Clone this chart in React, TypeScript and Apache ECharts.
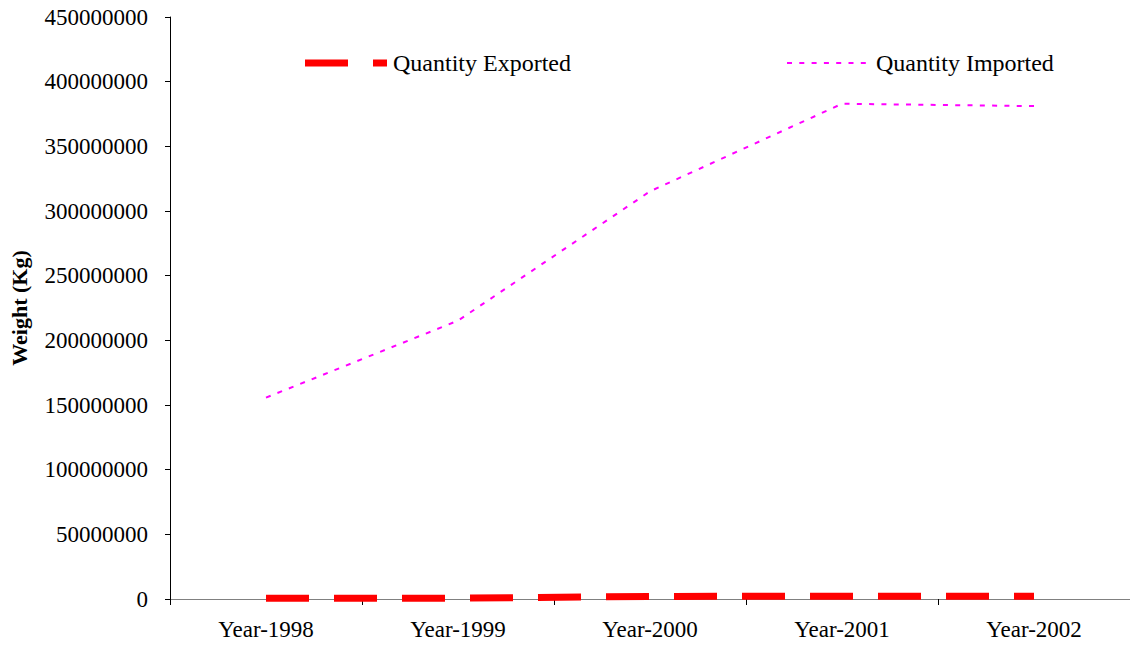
import React, { useEffect, useRef } from "react";
import * as echarts from "echarts";

const categories = ["Year-1998", "Year-1999", "Year-2000", "Year-2001", "Year-2002"];
const quantityExported = [500000, 600000, 2000000, 2100000, 2100000];
const quantityImported = [155700000, 215200000, 315200000, 382900000, 381100000];

const FONT = "'Liberation Serif', 'Times New Roman', serif";

// legend sample shapes (dash patterns as in the original legend)
const exportIcon = "path://M0,0H43V7H0Z M68,0H82V7H68Z";
const importIcon =
  "path://M0,0H5V2H0Z M12.3,0H17.3V2H12.3Z M24.6,0H29.6V2H24.6Z M36.9,0H41.9V2H36.9Z M49.2,0H54.2V2H49.2Z M61.5,0H66.5V2H61.5Z M73.8,0H78.8V2H73.8Z";

export default function App() {
  const ref = useRef<HTMLDivElement>(null);
  useEffect(() => {
    if (!ref.current) return;
    const chart = echarts.init(ref.current, undefined, { renderer: "svg" });
    chart.setOption({
      animation: false,
      backgroundColor: "#ffffff",
      textStyle: { fontFamily: FONT },
      grid: {
        left: 170,
        right: 0,
        top: 17,
        bottom: 46,
        containLabel: false,
        outerBoundsMode: "none",
      },
      legend: [
        {
          data: [{ name: "Quantity Exported", icon: exportIcon }],
          left: 305,
          top: 51,
          padding: 0,
          itemWidth: 82,
          itemHeight: 7,
          itemGap: 0,
          textStyle: { fontFamily: FONT, fontSize: 24, color: "#000", padding: [0, 0, 0, 1] },
        },
        {
          data: [{ name: "Quantity Imported", icon: importIcon }],
          left: 787,
          top: 51,
          padding: 0,
          itemWidth: 79,
          itemHeight: 2,
          itemGap: 0,
          textStyle: { fontFamily: FONT, fontSize: 24, color: "#000", padding: [0, 0, 0, 5] },
        },
      ],
      xAxis: {
        type: "category",
        data: categories,
        boundaryGap: true,
        axisLine: { show: true, lineStyle: { color: "#808080", width: 1 } },
        axisTick: { show: true, alignWithLabel: false, length: 6, lineStyle: { color: "#000" } },
        axisLabel: { fontFamily: FONT, fontSize: 23, color: "#000", margin: 19 },
        splitLine: { show: false },
      },
      yAxis: {
        type: "value",
        min: 0,
        max: 450000000,
        interval: 50000000,
        name: "Weight (Kg)",
        nameLocation: "middle",
        nameGap: 140,
        nameTextStyle: { fontFamily: FONT, fontSize: 22, fontWeight: "bold", color: "#000" },
        axisLine: { show: true, lineStyle: { color: "#000", width: 1 } },
        axisTick: { show: true, length: 5, lineStyle: { color: "#000" } },
        axisLabel: {
          fontFamily: FONT,
          fontSize: 23,
          color: "#000",
          margin: 22,
          formatter: (v: number) => String(Math.round(v)),
        },
        splitLine: { show: false },
      },
      series: [
        {
          name: "Quantity Exported",
          type: "line",
          data: quantityExported,
          symbol: "none",
          showSymbol: false,
          color: "#ff0000",
          itemStyle: { color: "#ff0000" },
          lineStyle: { color: "#ff0000", width: 7, type: [43, 25], cap: "butt" },
          z: 3,
        },
        {
          name: "Quantity Imported",
          type: "line",
          data: quantityImported,
          symbol: "none",
          showSymbol: false,
          color: "#ff00ff",
          itemStyle: { color: "#ff00ff" },
          lineStyle: { color: "#ff00ff", width: 2, type: [5, 7.3], cap: "butt" },
          z: 2,
        },
      ],
    });
    return () => chart.dispose();
  }, []);
  return (
    <div
      ref={ref}
      style={{ position: "fixed", left: 0, top: 0, width: 1130, height: 645, background: "#fff" }}
    />
  );
}
